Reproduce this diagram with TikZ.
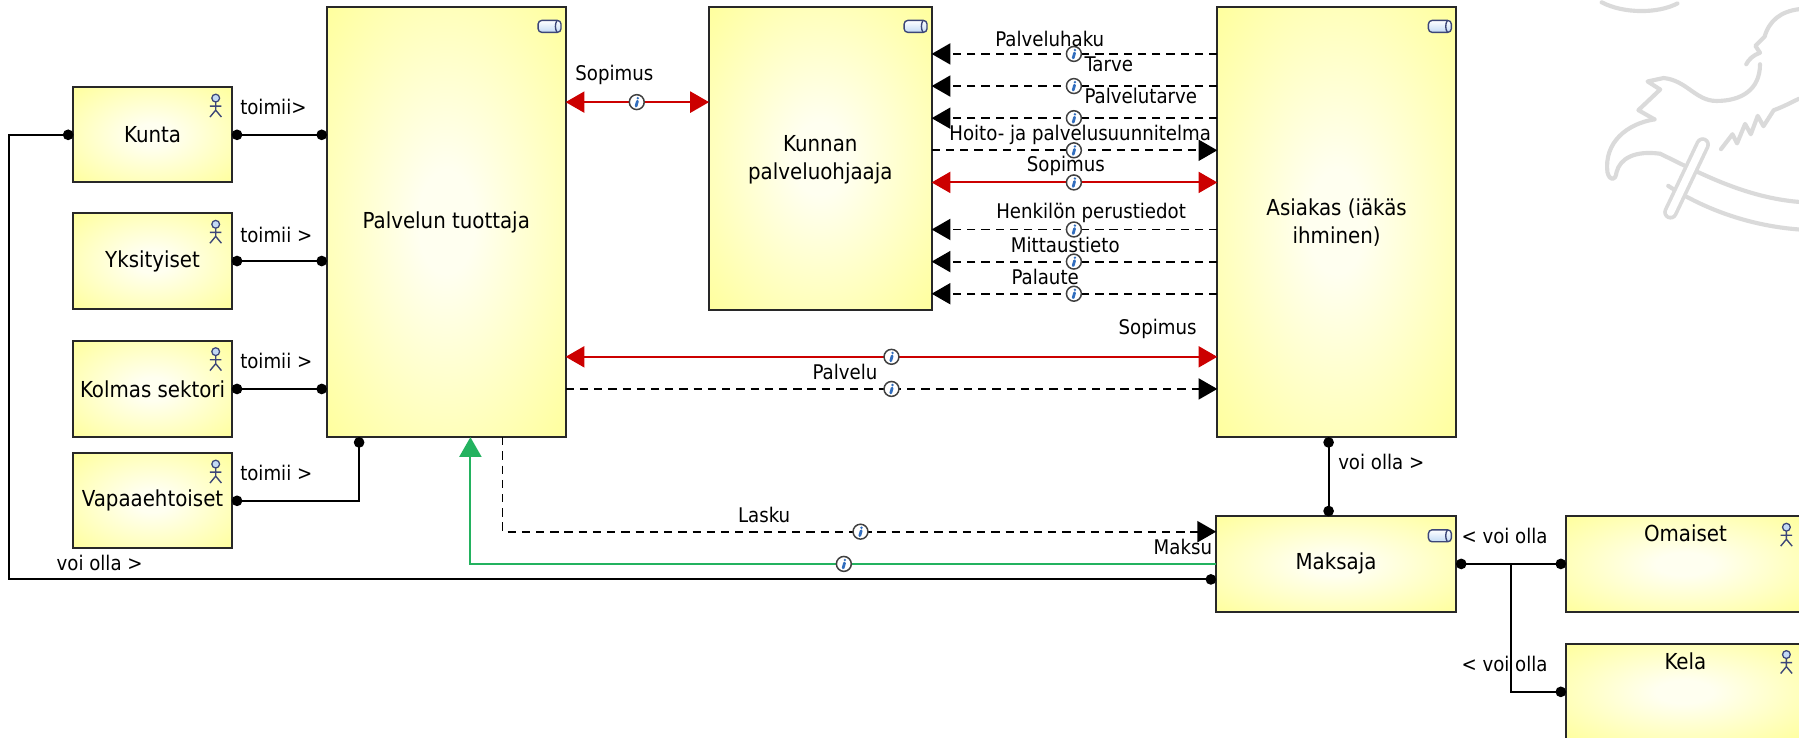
\documentclass[tikz,border=0pt]{standalone}
\usepackage{fontspec}
\setmainfont{DejaVu Sans Condensed}
\usetikzlibrary{arrows.meta,fit,calc}

\definecolor{boxyellow}{RGB}{255,255,150}
\definecolor{boxcentre}{RGB}{255,255,240}
\definecolor{boxline}{RGB}{40,40,40}
\definecolor{relred}{RGB}{204,0,0}
\definecolor{relgreen}{RGB}{35,178,95}
\definecolor{iconline}{RGB}{60,70,120}
\definecolor{iconfill}{RGB}{195,218,245}
\definecolor{infoblue}{RGB}{50,110,190}
\definecolor{wmgrey}{RGB}{218,218,218}

\pgfdeclareradialshading{boxglow}{\pgfpoint{0bp}{0bp}}{%
  color(0bp)=(boxcentre); color(6bp)=(boxcentre); color(38bp)=(boxyellow); color(50bp)=(boxyellow)}

\newcommand\boxfont{\fontsize{9.6}{12.3}\selectfont}
\newcommand\lblfont{\fontsize{8.8}{10.5}\selectfont}
\newcommand\twolines[2]{\begin{tabular}{@{}c@{}}#1\\#2\end{tabular}}

\tikzset{
  box/.style={draw=boxline, line width=0.9pt, inner sep=0pt, outer sep=0pt,
    shading=boxglow},
  boxtext/.style={inner sep=0pt, font=\boxfont},
  lbl/.style={inner sep=0pt, font=\lblfont},
  rel/.style={draw=black, line width=0.85pt},
  dotboth/.style={{Circle[length=4.6pt]}-{Circle[length=4.6pt]}},
  dotend/.style={-{Circle[length=4.6pt]}},
  flowto/.style={draw=black, line width=0.8pt, dash pattern=on 3.6pt off 2.6pt,
    -{Triangle[length=8.2pt,width=9.2pt]}},
  redboth/.style={draw=relred, line width=0.85pt,
    {Triangle[length=8.2pt,width=9.2pt]}-{Triangle[length=8.2pt,width=9.2pt]}},
  greento/.style={draw=relgreen, line width=0.85pt,
    -{Triangle[length=8.6pt,width=9.6pt]}},
  wm/.style={draw=wmgrey, line width=1.8pt, line cap=round, line join=round},
  actor/.pic={
    \draw[iconline, line width=0.55pt, fill=iconfill] (0,9.5) circle[radius=3.4];
    \draw[iconline, line width=0.6pt] (0,13) -- (0,20) (-5,16.5) -- (5,16.5)
      (-5,26) -- (0,20) -- (5,26);
  },
  service/.pic={
    \draw[iconline, line width=0.6pt, top color=white, bottom color=iconfill,
      rounded corners=1.6pt] (-10,-5.2) rectangle (10,5.2);
    \draw[iconline, line width=0.6pt] (6.5,-5.2) .. controls (4.6,-2) and (4.6,2) .. (6.5,5.2);
  },
  info/.pic={
    \draw[black!75, line width=0.65pt, fill=white] (0,0) circle[radius=6.5];
    \fill[infoblue] (0.9,-3.4) circle[radius=1.15];
    \draw[infoblue, line width=1.2pt, line cap=round] (0.6,-0.8) -- (-0.6,3.5);
  }
}

\begin{document}
\begin{tikzpicture}[x=0.5pt,y=-0.5pt]
\clip (0,0) rectangle (1568,643);
\fill[white] (0,0) rectangle (1568,643);

% faint emblem in the upper right corner
\begin{scope}
\draw[wm] (1396,2) .. controls (1415,12) and (1445,12) .. (1462,3);
\draw[wm] (1568,8) .. controls (1552,10) and (1542,18) .. (1538,32) -- (1530,40) -- (1534,46)
  .. controls (1528,48) and (1524,52) .. (1522,56);
\draw[wm] (1534,56) .. controls (1534,78) and (1518,88) .. (1496,88)
  .. controls (1478,88) and (1470,70) .. (1450,68) -- (1436,71) -- (1447,78) -- (1428,96) -- (1442,104);
\draw[wm] (1442,104) .. controls (1418,108) and (1398,124) .. (1401,150)
  .. controls (1403,158) and (1408,158) .. (1409,150)
  .. controls (1412,138) and (1425,131) .. (1447,134);
\draw[wm] (1447,134) .. controls (1480,150) and (1520,172) .. (1568,176);
\draw[wm] (1454,162) .. controls (1488,184) and (1528,197) .. (1568,200);
\draw[wm] (1500,130) -- (1510,117) -- (1514,125) -- (1521,108) -- (1526,117) -- (1532,101)
  -- (1537,110) -- (1546,96) .. controls (1552,94) and (1560,90) .. (1568,86);
\draw[wmgrey, line width=6.4pt, line cap=round] (1456,185) -- (1484,126);
\draw[white, line width=3.2pt, line cap=round] (1456,185) -- (1484,126);
\end{scope}

% rails used by the connectors
\coordinate (railL) at (8,0);
\coordinate (railV) at (313,0);
\coordinate (railLasku) at (438,0);
\coordinate (railMaksu) at (410,0);
\coordinate (railPay) at (1158,0);
\coordinate (railKela) at (1317,0);

% elements
\node[box, fit={(64,76) (202,159)}] (kunta) {};
\node[box, fit={(64,186) (202,269)}] (yks) {};
\node[box, fit={(64,297) (202,381)}] (kolmas) {};
\node[box, fit={(64,395) (202,478)}] (vapaa) {};
\node[box, fit={(285,6) (493,381)}] (tuottaja) {};
\node[box, fit={(618,6) (812,270)}] (ohjaaja) {};
\node[box, fit={(1061,6) (1269,381)}] (asiakas) {};
\node[box, fit={(1060,450) (1269,533)}] (maksaja) {};
\node[box, fit={(1365,450) (1571,533)}] (omaiset) {};
\node[box, fit={(1365,561) (1571,645)}] (kela) {};

\node[boxtext] (kuntaT) at (kunta.center) {Kunta};
\node[boxtext] (yksT) at (yks.center) {Yksityiset};
\node[boxtext] (kolmasT) at (kolmas.center) {Kolmas sektori};
\node[boxtext] (vapaaT) at (vapaa.center) {Vapaaehtoiset};
\node[boxtext] (tuottajaT) at (tuottaja.center) {Palvelun tuottaja};
\node[boxtext] (ohjaajaT) at ($(ohjaaja.center)+(0,1.5)$) {\twolines{Kunnan}{palveluohjaaja}};
\node[boxtext] (asiakasT) at ($(asiakas.center)+(0,1.5)$) {\twolines{Asiakas (iäkäs}{ihminen)}};
\node[boxtext] (maksajaT) at (maksaja.center) {Maksaja};
\node[boxtext] (omaisetT) at (1469,464.5) {Omaiset};
\node[boxtext] (kelaT) at (1469,576) {Kela};

% type icons
\foreach \b in {kunta,yks,kolmas,vapaa,omaiset,kela}
  \pic at ($(\b.north east)+(-14,0)$) {actor};
\foreach \b in {tuottaja,ohjaaja,asiakas,maksaja}
  \pic at ($(\b.north east)+(-14,17)$) {service};

% actors working as service producers
\draw[rel, dotboth] (kunta.east) -- (kunta.east -| tuottaja.west);
\draw[rel, dotboth] (yks.east) -- (yks.east -| tuottaja.west);
\draw[rel, dotboth] (kolmas.east) -- (kolmas.east -| tuottaja.west);
\draw[rel, dotboth] (vapaa.east) -| (tuottaja.south -| railV);
\draw[rel, dotboth] (kunta.west) -- (kunta.west -| railL) |- ($(maksaja.west)+(0,13.5)$);

% producer and care coordinator
\draw[redboth] (tuottaja.east |- 0,89) -- (ohjaaja.west |- 0,89);

% coordinator and client
\draw[flowto] (asiakas.west |- 0,47) -- (ohjaaja.east |- 0,47);
\draw[flowto] (asiakas.west |- 0,75) -- (ohjaaja.east |- 0,75);
\draw[flowto] (asiakas.west |- 0,103) -- (ohjaaja.east |- 0,103);
\draw[flowto] (ohjaaja.east |- 0,131) -- (asiakas.west |- 0,131);
\draw[redboth] (ohjaaja.east |- 0,159) -- (asiakas.west |- 0,159);
\draw[flowto] (asiakas.west |- 0,200) -- (ohjaaja.east |- 0,200);
\draw[flowto] (asiakas.west |- 0,228) -- (ohjaaja.east |- 0,228);
\draw[flowto] (asiakas.west |- 0,256) -- (ohjaaja.east |- 0,256);

% producer and client
\draw[redboth] (tuottaja.east |- 0,311) -- (asiakas.west |- 0,311);
\draw[flowto] (tuottaja.east |- 0,339) -- (asiakas.west |- 0,339);

% invoicing and payment
\draw[flowto] (tuottaja.south -| railLasku) |- (maksaja.west |- 0,463.4);
\draw[greento] (maksaja.west) -| (tuottaja.south -| railMaksu);

% payer relations
\draw[rel, dotboth] (asiakas.south -| railPay) -- (maksaja.north -| railPay);
\draw[rel, dotboth] (maksaja.east) -- (omaiset.west);
\draw[rel, dotend] (maksaja.east -| railKela) |- (kela.west);

% flow markers
\foreach \x/\y in {555/89, 936/47, 936/75, 936/103, 936/131, 936/159, 936/200, 936/228, 936/256,
  777/311, 777/339, 750/463.4, 735.5/491.5}
  \pic at (\x,\y) {info};

% connector labels
\node[lbl, anchor=west] (t1) at (209,93.5) {toimii>};
\node[lbl, anchor=west] (t2) at (209,204.5) {toimii >};
\node[lbl, anchor=west] (t3) at (209,315) {toimii >};
\node[lbl, anchor=west] (t4) at (209,412) {toimii >};
\node[lbl, anchor=west] (v1) at (49,491) {voi olla >};
\node[lbl] (s1) at (535.5,65) {Sopimus};
\node[lbl] (f1) at (915,34) {Palveluhaku};
\node[lbl, anchor=west] (f2) at (945,56) {Tarve};
\node[lbl, anchor=west] (f3) at (945,83.5) {Palvelutarve};
\node[lbl] (f4) at (941.5,117.7) {Hoito- ja palvelusuunnitelma};
\node[lbl] (s2) at (929,145) {Sopimus};
\node[lbl] (f5) at (951,186) {Henkilön perustiedot};
\node[lbl] (f6) at (928.5,213.5) {Mittaustieto};
\node[lbl] (f7) at (911,241) {Palaute};
\node[lbl] (s3) at (1009,287) {Sopimus};
\node[lbl] (f8) at (736.5,324) {Palvelu};
\node[lbl] (f9) at (666,449) {Lasku};
\node[lbl] (f10) at (1031,477) {Maksu};
\node[lbl, anchor=west] (v2) at (1166,403) {voi olla >};
\node[lbl, anchor=west] (v3) at (1273.5,467) {< voi olla};
\node[lbl, anchor=west] (v4) at (1273.5,579) {< voi olla};
\end{tikzpicture}
\end{document}
